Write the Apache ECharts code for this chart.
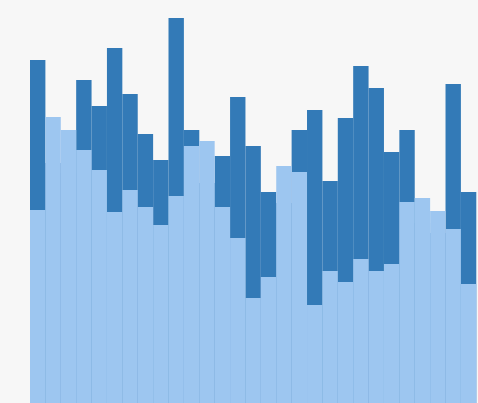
<!DOCTYPE html>
<html>
<head>
<meta charset="utf-8">
<script src="https://cdn.jsdelivr.net/npm/echarts@6/dist/echarts.min.js"></script>
<style>
html,body{margin:0;padding:0;background:#f7f7f7;}
#chart{width:478px;height:403px;}
</style>
</head>
<body>
<div id="chart"></div>
<script>
const categories = ['1','2','3','4','5','6','7','8','9','10','11','12','13','14','15','16','17','18','19','20','21','22','23','24','25','26','27','28','29'];
const highValues = [343,240,230,323,297,355,309,269,243,385,273,220,247,306,257,211,200,273,293,222,285,337,315,251,273,180,170,319,211];
const lowValues  = [193,286,273,253,233,191,213,196,178,207,257,262,196,165,105,126,237,231,98,132,121,144,132,139,201,205,192,174,119];

const chart = echarts.init(document.getElementById('chart'));
chart.setOption({
  animation: false,
  backgroundColor: '#f7f7f7',
  grid: { left: 30, right: 1.7, top: 3, bottom: 0 },
  xAxis: {
    type: 'category',
    data: categories,
    show: false,
    boundaryGap: true
  },
  yAxis: {
    type: 'value',
    min: 0,
    max: 400,
    show: false
  },
  series: [
    {
      type: 'bar',
      data: highValues,
      barCategoryGap: 0,
      barGap: '-100%',
      itemStyle: { color: '#337ab7' }
    },
    {
      type: 'bar',
      data: lowValues,
      barCategoryGap: 0,
      barGap: '-100%',
      itemStyle: { color: '#9dc6f0' }
    }
  ]
});
</script>
</body>
</html>
